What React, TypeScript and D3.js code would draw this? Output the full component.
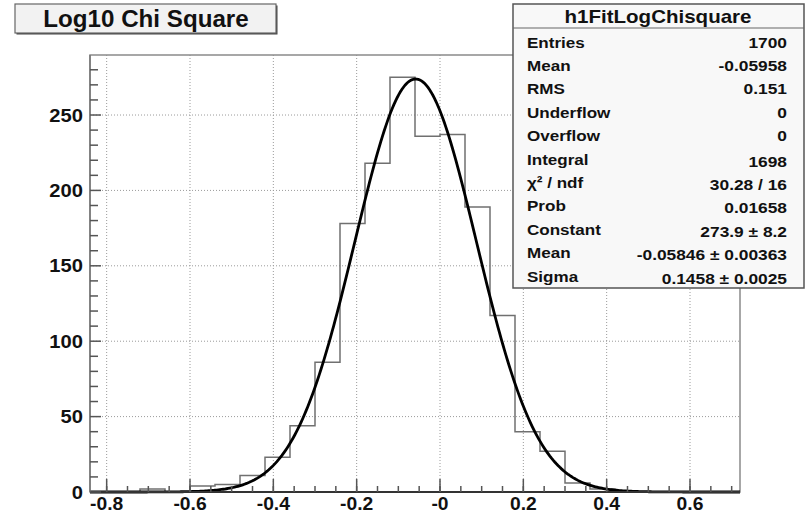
import React from "react";
import * as d3 from "d3";

const binEdgesStart = -0.84;
const binWidth = 0.06;
const binCounts = [0, 0, 2, 0, 4, 5, 11, 23, 44, 86, 178, 218, 275, 236, 237, 189, 117, 40, 27, 6, 2, 0, 0, 0, 0, 0];

const fitConstant = 273.9;
const fitMean = -0.05846;
const fitSigma = 0.1458;

const xMajorTicks = [-0.8, -0.6, -0.4, -0.2, 0, 0.2, 0.4, 0.6];
const xTickLabels = ["-0.8", "-0.6", "-0.4", "-0.2", "-0", "0.2", "0.4", "0.6"];
const yMajorTicks = [0, 50, 100, 150, 200, 250];

const statsTitle = "h1FitLogChisquare";
const statsLabels = ["Entries", "Mean", "RMS", "Underflow", "Overflow", "Integral", "χ² / ndf", "Prob", "Constant", "Mean", "Sigma"];
const statsValues = ["1700", "-0.05958", "0.151", "0", "0", "1698", "30.28 / 16", "0.01658", "273.9 ± 8.2", "-0.05846 ± 0.00363", "0.1458 ± 0.0025"];

const title = "Log10 Chi Square";

const W = 808, H = 517;
const FL = 90, FR = 740, FT = 55, FB = 492;

function SText({ x, y, sx, anchor, size, children }: { x: number; y: number; sx: number; anchor?: string; size: number; children: React.ReactNode }) {
  return (
    <text transform={`translate(${x},${y}) scale(${sx},1)`} textAnchor={anchor || "start"} fontWeight="bold" fontSize={size} fill="#111">
      {children}
    </text>
  );
}

export default function App() {
  const nBins = binCounts.length;
  const xMin = binEdgesStart;
  const xMax = binEdgesStart + nBins * binWidth;
  const x = d3.scaleLinear().domain([xMin, xMax]).range([FL, FR]);
  const y = d3.scaleLinear().domain([0, 289.8]).range([FB, FT]);

  let hp = `M${x(xMin)},${y(0)}`;
  binCounts.forEach((c, i) => {
    const e1 = xMin + (i + 1) * binWidth;
    hp += `V${y(c)}H${x(e1)}`;
  });
  hp += `V${y(0)}`;

  const gauss = (v: number) => fitConstant * Math.exp(-0.5 * ((v - fitMean) / fitSigma) ** 2);
  const curvePts = d3.range(0, 401).map((k) => xMin + (k / 400) * (xMax - xMin));
  const curve = d3.line<number>().x((v) => x(v)).y((v) => y(gauss(v)))(curvePts);

  const yMinor = d3.range(0, 290, 10).filter((v) => v % 50 !== 0);
  const xMinorAll = d3.range(-16, 15).map((k) => k * 0.05).filter((v) => v >= xMin && v <= xMax);

  const font = "'Liberation Sans', Arial, sans-serif";
  const rowY0 = 47.5;
  const rowDy = 23.4;

  return (
    <svg width={W} height={H} style={{ position: "absolute", left: 0, top: 0, background: "#fff" }} fontFamily={font}>
      <rect x={0} y={0} width={W} height={H} fill="#fff" />
      <g stroke="#9a9a9a" strokeWidth={1} strokeDasharray="1,2">
        {xMajorTicks.map((v) => (
          <line key={"gx" + v} x1={x(v)} x2={x(v)} y1={FT} y2={FB} />
        ))}
        {yMajorTicks.filter((v) => v > 0).map((v) => (
          <line key={"gy" + v} x1={FL} x2={FR} y1={y(v)} y2={y(v)} />
        ))}
      </g>
      <rect x={FL} y={FT} width={FR - FL} height={FB - FT} fill="none" stroke="#8a8a8a" strokeWidth={1.5} />
      <path d={hp} fill="none" stroke="#707070" strokeWidth={1.5} />
      <path d={curve || ""} fill="none" stroke="#000" strokeWidth={2.8} />
      <line x1={FL} x2={FR} y1={FB} y2={FB} stroke="#333" strokeWidth={2} />
      <line x1={FL} x2={FL} y1={FT} y2={FB} stroke="#777" strokeWidth={1.5} />
      <g stroke="#555" strokeWidth={1.5}>
        {yMajorTicks.map((v) => (
          <line key={"ty" + v} x1={FL} x2={FL + 11} y1={y(v)} y2={y(v)} />
        ))}
        {yMinor.map((v) => (
          <line key={"tym" + v} x1={FL} x2={FL + 8} y1={y(v)} y2={y(v)} />
        ))}
        {xMajorTicks.map((v) => (
          <line key={"tx" + v} x1={x(v)} x2={x(v)} y1={FB} y2={FB - 13} />
        ))}
        {xMinorAll.map((v, i) => (
          <line key={"txm" + i} x1={x(v)} x2={x(v)} y1={FB} y2={FB - 6} />
        ))}
      </g>
      {yMajorTicks.map((v) => (
        <SText key={"ly" + v} x={83} y={y(v) + 6.5} sx={1.12} anchor="end" size={18}>{String(v)}</SText>
      ))}
      {xMajorTicks.map((v, i) => (
        <SText key={"lx" + v} x={x(v)} y={510} sx={1.07} anchor="middle" size={18}>{xTickLabels[i]}</SText>
      ))}
      <rect x={16.5} y={5.5} width={261} height={29} fill="#444" />
      <rect x={15} y={4} width={261} height={29} fill="#f2f2f2" stroke="#666" strokeWidth={1.2} />
      <SText x={146} y={27} sx={1.05} anchor="middle" size={23}>{title}</SText>
      <rect x={513} y={4} width={291} height={284} fill="#f8f8f8" stroke="#555" strokeWidth={1.5} />
      <line x1={513} x2={804} y1={28} y2={28} stroke="#666" strokeWidth={1.2} />
      <SText x={658} y={22.5} sx={1.14} anchor="middle" size={18}>{statsTitle}</SText>
      {statsLabels.map((l, i) => (
        <SText key={"sl" + i} x={527} y={rowY0 + i * rowDy} sx={1.1} size={15.5}>{l}</SText>
      ))}
      {statsValues.map((v, i) => (
        <SText key={"sv" + i} x={787} y={rowY0 + i * rowDy + (i >= 5 ? 2 : 0)} sx={1.12} anchor="end" size={15.5}>{v}</SText>
      ))}
    </svg>
  );
}
